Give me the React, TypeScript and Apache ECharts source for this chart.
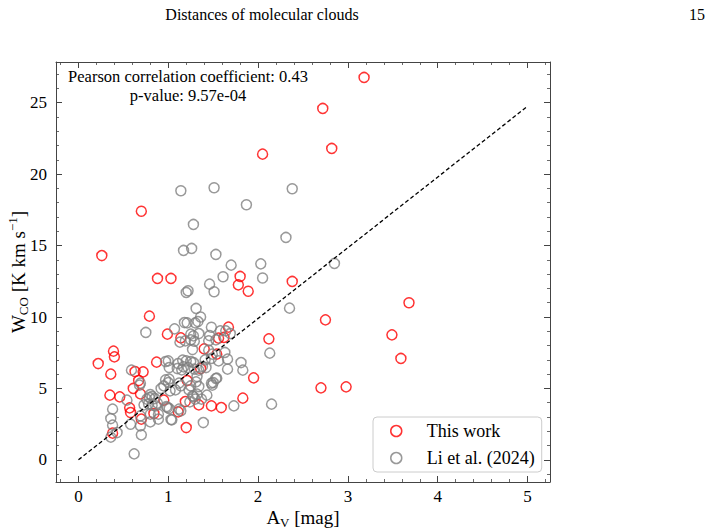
import React, { useEffect, useRef } from 'react';
import * as echarts from 'echarts';

// A_V [mag] and W_CO [K km/s] for "This work"
const thisWorkAv = [3.18, 2.72, 2.82, 2.05, 0.70, 0.26, 3.68, 2.75, 3.49, 3.59, 2.70, 2.98, 2.38, 1.80, 1.78, 1.89, 0.88, 1.03, 2.12, 1.95, 1.83, 1.67, 1.56, 1.62, 1.54, 1.40, 0.99, 1.14, 0.87, 1.36, 1.21, 0.95, 1.19, 1.34, 1.48, 1.59, 1.11, 0.84, 1.20, 0.79, 0.39, 0.40, 0.22, 0.36, 0.63, 0.72, 0.67, 0.61, 0.69, 0.35, 0.46, 0.57, 0.58, 0.70, 0.38];
const thisWorkWco = [26.77, 24.6, 21.8, 21.4, 17.4, 14.3, 11.0, 9.8, 8.75, 7.1, 5.04, 5.11, 12.49, 12.84, 12.25, 11.8, 12.7, 12.7, 8.47, 5.74, 4.32, 9.29, 8.52, 8.57, 7.4, 7.77, 8.8, 8.54, 6.84, 6.39, 5.55, 4.18, 4.08, 3.85, 3.78, 3.66, 3.36, 3.24, 2.26, 10.06, 7.61, 7.21, 6.74, 6.0, 6.18, 6.16, 5.55, 5.0, 4.62, 4.53, 4.41, 3.64, 3.31, 2.85, 1.87];

// Li et al. (2024)
const liAv = [1.14, 1.51, 2.38, 1.87, 1.28, 2.31, 1.17, 1.26, 1.53, 1.70, 2.03, 2.85, 1.61, 2.05, 1.46, 1.51, 1.20, 1.22, 1.31, 2.35, 1.36, 1.18, 1.21, 1.30, 1.33, 1.07, 0.75, 1.48, 1.58, 1.64, 1.69, 1.25, 1.28, 1.34, 1.46, 1.25, 1.29, 1.13, 1.19, 1.45, 1.53, 1.27, 1.45, 1.49, 1.63, 1.48, 1.66, 2.13, 1.81, 1.83, 1.66, 1.56, 1.41, 1.00, 0.97, 1.11, 1.16, 1.20, 1.25, 1.28, 0.59, 1.01, 1.10, 1.15, 1.17, 1.22, 1.29, 1.34, 1.38, 1.42, 0.69, 1.01, 1.00, 1.12, 1.14, 1.08, 1.02, 1.32, 1.31, 1.25, 1.23, 1.34, 1.43, 1.48, 1.53, 1.49, 1.27, 1.30, 1.37, 1.24, 0.99, 1.12, 1.14, 1.04, 1.39, 1.73, 2.15, 0.80, 0.79, 0.76, 0.82, 0.85, 0.78, 0.73, 0.82, 0.88, 0.54, 0.38, 0.36, 0.38, 0.36, 0.58, 0.69, 0.70, 0.80, 0.89, 0.62, 0.92, 0.97, 0.95, 1.01, 0.69, 0.98, 1.03, 1.54, 1.50, 0.43, 0.68, 0.89, 0.80, 0.86, 1.28, 1.32];
const liWco = [18.84, 19.05, 18.98, 17.86, 16.48, 15.57, 14.66, 14.80, 14.38, 13.63, 13.72, 13.75, 12.82, 12.73, 12.30, 11.77, 11.72, 11.84, 10.60, 10.62, 10.00, 9.61, 9.59, 9.59, 9.68, 9.17, 8.92, 9.28, 9.03, 9.03, 8.84, 8.80, 8.68, 8.84, 8.70, 8.40, 8.30, 8.24, 8.33, 8.33, 8.40, 7.72, 7.68, 7.40, 7.52, 7.10, 7.05, 7.47, 6.81, 6.28, 6.35, 6.93, 7.00, 6.93, 6.88, 6.74, 6.98, 6.93, 6.88, 6.81, 6.28, 6.46, 6.39, 6.30, 6.51, 6.46, 6.35, 6.28, 6.53, 6.46, 5.37, 5.65, 5.41, 5.37, 5.18, 4.90, 4.83, 5.83, 5.46, 5.18, 4.90, 5.13, 4.53, 5.37, 5.69, 5.23, 4.48, 4.25, 4.25, 4.06, 3.66, 3.55, 3.43, 2.80, 2.61, 3.78, 3.90, 4.57, 4.36, 4.25, 4.43, 4.29, 3.92, 3.85, 3.83, 3.97, 4.18, 3.55, 2.89, 2.43, 1.59, 2.49, 2.38, 1.75, 2.66, 2.85, 0.42, 4.99, 5.60, 5.18, 3.59, 3.08, 3.73, 2.82, 5.72, 5.41, 1.91, 5.23, 3.20, 3.20, 3.78, 4.43, 4.60];

// dashed reference line
const fitAv = [0, 5];
const fitWco = [0, 24.75];

const xRange = [-0.25, 5.25];
const yRange = [-1.55, 27.85];

const pearsonText = 'Pearson correlation coefficient: 0.43';
const pValueText = 'p-value: 9.57e-04';

const serif = 'Liberation Serif';
const axisColor = '#444';

function frameAxis(extra: any) {
  return {
    type: 'value',
    axisLine: { show: true, onZero: false, lineStyle: { color: axisColor, width: 1 } },
    axisTick: { show: true, inside: true, length: 6, lineStyle: { color: axisColor, width: 1 } },
    minorTick: { show: true, splitNumber: 5, length: 3, lineStyle: { color: axisColor, width: 0.8 } },
    splitLine: { show: false },
    minorSplitLine: { show: false },
    ...extra,
  };
}

export default function App() {
  const ref = useRef<HTMLDivElement>(null);
  useEffect(() => {
    if (!ref.current) return;
    const chart = echarts.init(ref.current, null, { renderer: 'svg' });
    const labelCommon = {
      fontFamily: serif,
      fontSize: 17,
      color: '#000',
      showMinLabel: false,
      showMaxLabel: false,
    };
    const titleStyle = (size: number) => ({
      fontFamily: serif,
      fontSize: size,
      fontWeight: 'normal',
      color: '#000',
      lineHeight: 19,
    });
    const option: any = {
      animation: false,
      backgroundColor: '#fff',
      title: [
        { text: 'Distances of molecular clouds', left: 262, top: 5, textAlign: 'center', padding: 0, textStyle: titleStyle(16) },
        { text: '15', right: 5, top: 5, padding: 0, textStyle: titleStyle(16) },
        { text: pearsonText + '\n' + pValueText, left: 188, top: 67, textAlign: 'center', padding: 0, textStyle: titleStyle(16.5) },
      ],
      grid: { left: 56, right: 160, top: 62, bottom: 49, containLabel: false, outerBoundsMode: 'none' },
      xAxis: [
        frameAxis({
          min: xRange[0], max: xRange[1], splitNumber: 6, position: 'bottom',
          axisLabel: { ...labelCommon, margin: 6 },
          name: '{a|A}{s|V}{a| [mag]}',
          nameLocation: 'middle', nameGap: 23, nameMoveOverlap: false,
          nameTextStyle: {
            rich: {
              a: { fontFamily: serif, fontSize: 19, color: '#000', lineHeight: 24 },
              s: { fontFamily: serif, fontSize: 13, color: '#000', verticalAlign: 'bottom' },
            },
          },
        }),
        frameAxis({
          min: xRange[0], max: xRange[1], splitNumber: 6, position: 'top',
          axisLabel: { show: false },
        }),
      ],
      yAxis: [
        frameAxis({
          min: yRange[0], max: yRange[1], splitNumber: 6, position: 'left',
          axisLabel: { ...labelCommon, margin: 9 },
          name: '{a|W}{s|CO}{a| [K km s}{p|−1}{a|]}',
          nameLocation: 'middle', nameGap: 26, nameRotate: 90, nameMoveOverlap: false,
          nameTextStyle: {
            rich: {
              a: { fontFamily: serif, fontSize: 19, color: '#000', lineHeight: 24 },
              s: { fontFamily: serif, fontSize: 13, color: '#000', verticalAlign: 'bottom' },
              p: { fontFamily: serif, fontSize: 13, color: '#000', verticalAlign: 'top' },
            },
          },
        }),
        frameAxis({
          min: yRange[0], max: yRange[1], splitNumber: 6, position: 'right',
          axisLabel: { show: false },
        }),
      ],
      legend: {
        orient: 'vertical',
        left: 373,
        top: 417,
        backgroundColor: '#fff',
        borderColor: '#cccccc',
        borderWidth: 1,
        borderRadius: 4,
        padding: [5, 7, 5, 17],
        itemGap: 9,
        itemWidth: 11,
        itemHeight: 11,
        textStyle: { fontFamily: serif, fontSize: 18, color: '#000', padding: [0, 0, 0, 20] },
        data: [
          { name: 'This work', icon: 'circle', itemStyle: { color: 'rgba(0,0,0,0)', borderColor: '#ff0000', borderWidth: 1.5 } },
          { name: 'Li et al. (2024)', icon: 'circle', itemStyle: { color: 'rgba(0,0,0,0)', borderColor: '#808080', borderWidth: 1.5 } },
        ],
      },
      series: [
        {
          name: 'This work',
          type: 'scatter',
          xAxisIndex: 0, yAxisIndex: 0,
          symbol: 'circle',
          symbolSize: 10,
          itemStyle: { color: 'rgba(0,0,0,0)', borderColor: '#ff0000', borderWidth: 1.5 },
          data: thisWorkAv.map((x, i) => [x, thisWorkWco[i]]),
        },
        {
          name: 'Li et al. (2024)',
          type: 'scatter',
          xAxisIndex: 0, yAxisIndex: 0,
          symbol: 'circle',
          symbolSize: 10,
          itemStyle: { color: 'rgba(0,0,0,0)', borderColor: '#808080', borderWidth: 1.5 },
          data: liAv.map((x, i) => [x, liWco[i]]),
        },
        {
          name: 'fit',
          type: 'line',
          xAxisIndex: 0, yAxisIndex: 0,
          symbol: 'none',
          silent: true,
          z: 5,
          lineStyle: { color: '#000', width: 1.3, type: [4, 2.5] },
          data: fitAv.map((x, i) => [x, fitWco[i]]),
        },
      ],
    };
    chart.setOption(option);
    return () => chart.dispose();
  }, []);
  return (
    <div
      ref={ref}
      style={{ position: 'fixed', left: 0, top: 0, width: 710, height: 531, background: '#fff' }}
    />
  );
}
